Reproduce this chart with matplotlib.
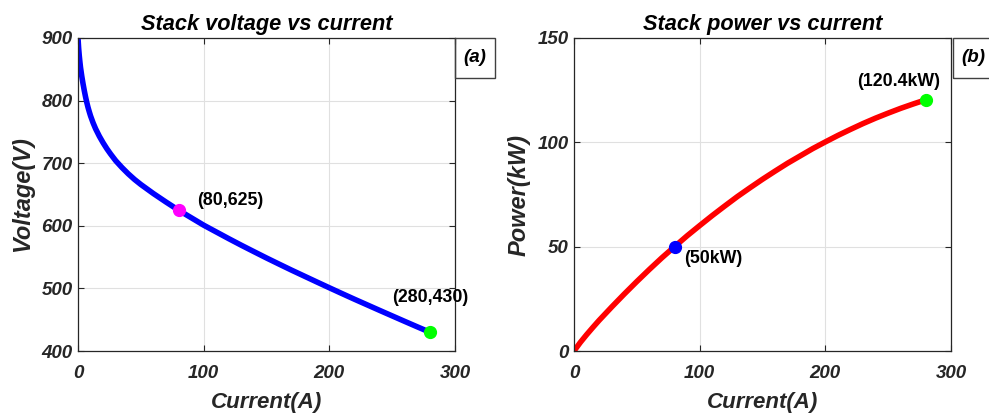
import numpy as np
import matplotlib.pyplot as plt
from matplotlib.patches import Rectangle

plt.rcParams['font.family'] = ['Liberation Sans', 'DejaVu Sans']

# valori
I_v = [0, 0.5, 1, 1.5, 2, 3, 4, 5, 6, 7, 8, 9, 10, 12, 14, 17, 20, 23, 26,
       30, 35, 40, 45, 50, 60, 70, 80, 90, 100, 110, 120, 130, 140, 150,
       160, 170, 180, 190, 200, 210, 220, 230, 240, 250, 260, 270, 280]
V = [900, 884, 872, 862, 853, 839, 827, 816, 806, 797, 789, 782, 775.5,
     764.5, 755, 743, 732.5, 723, 714.5, 704, 693, 683, 674, 666, 651.5,
     638, 625, 613, 601, 590.2, 579.4, 568.9, 558.7, 548.6, 538.8, 529.1,
     519.7, 510.3, 501, 491.8, 482.7, 473.8, 464.9, 456.1, 447.3, 438.6, 430]

I_p = [0, 5, 10, 15, 20, 30, 40, 50, 60, 70, 80, 90, 100, 110, 120, 130,
       140, 150, 160, 170, 180, 190, 200, 210, 220, 230, 240, 250, 260, 270,
       280]
P = [0, 4.1, 7.8, 11.3, 14.7, 21.1, 27.3, 33.3, 39.1, 44.7, 50, 55.2, 60.1,
     64.9, 69.5, 74, 78.2, 82.3, 86.2, 90, 93.5, 97, 100.2, 103.3, 106.2,
     109, 111.6, 114, 116.3, 118.4, 120.4]

# punti evidenziati
pt_v = [(80, 625, '#ff00ff', '(80,625)', 94.5, 641),
        (280, 430, '#00ff00', '(280,430)', 250, 486)]
pt_p = [(80, 50, '#0000ff', '(50kW)', 88, 44.5),
        (280, 120.4, '#00ff00', '(120.4kW)', 225, 129)]

col = '#262626'
fig = plt.figure(figsize=(9.89, 4.18), dpi=100)
ax1 = fig.add_axes([78/989, 67/418, 377/989, 313/418])
ax2 = fig.add_axes([574/989, 67/418, 377/989, 313/418])


def style(ax, title, ylab):
    ax.set_xlim(0, 300)
    ax.set_xticks([0, 100, 200, 300])
    ax.grid(color='#e0e0e0', linewidth=0.8)
    ax.set_axisbelow(True)
    ax.tick_params(direction='in', length=4, width=0.8, colors=col,
                   top=True, right=True, labelsize=13.5)
    ax.tick_params(axis='x', pad=10)
    ax.tick_params(axis='y', pad=4)
    for lab in ax.get_xticklabels() + ax.get_yticklabels():
        lab.set_fontweight('bold')
        lab.set_fontstyle('italic')
    for s in ax.spines.values():
        s.set_color(col)
        s.set_linewidth(0.9)
    ax.set_title(title, fontsize=15.7, fontweight='bold', fontstyle='italic',
                 color='black', pad=6)
    ax.set_xlabel('Current(A)', fontsize=16, fontweight='bold',
                  fontstyle='italic', color=col, labelpad=7)
    ax.set_ylabel(ylab, fontsize=17, fontweight='bold',
                  fontstyle='italic', color=col, labelpad=5)


ax1.plot(I_v, V, color='#0000ff', linewidth=4, solid_capstyle='butt')
ax1.set_ylim(400, 900)
ax1.set_yticks([400, 500, 600, 700, 800, 900])
for x, y, c, t, tx, ty in pt_v:
    ax1.plot(x, y, 'o', color=c, markersize=8.5, zorder=5)
    ax1.text(tx, ty, t, fontsize=12.8, fontweight='bold', va='center')
style(ax1, 'Stack voltage vs current', 'Voltage(V)')

ax2.plot(I_p, P, color='#ff0000', linewidth=4, solid_capstyle='butt')
ax2.set_ylim(0, 150)
ax2.set_yticks([0, 50, 100, 150])
for x, y, c, t, tx, ty in pt_p:
    ax2.plot(x, y, 'o', color=c, markersize=8.5, zorder=5)
    ax2.text(tx, ty, t, fontsize=12.8, fontweight='bold', va='center')
style(ax2, 'Stack power vs current', 'Power(kW)')

# riquadri (a) e (b)
for x0, lab in [(455, '(a)'), (953, '(b)')]:
    fig.patches.append(Rectangle((x0/989, 340/418), 40/989, 40/418,
                                 transform=fig.transFigure, fill=False,
                                 edgecolor='#404040', linewidth=1.0))
    fig.text((x0 + 20)/989, 360/418, lab, fontsize=13.5, fontweight='bold',
             fontstyle='italic', ha='center', va='center')

plt.savefig('out.png', dpi=100)
